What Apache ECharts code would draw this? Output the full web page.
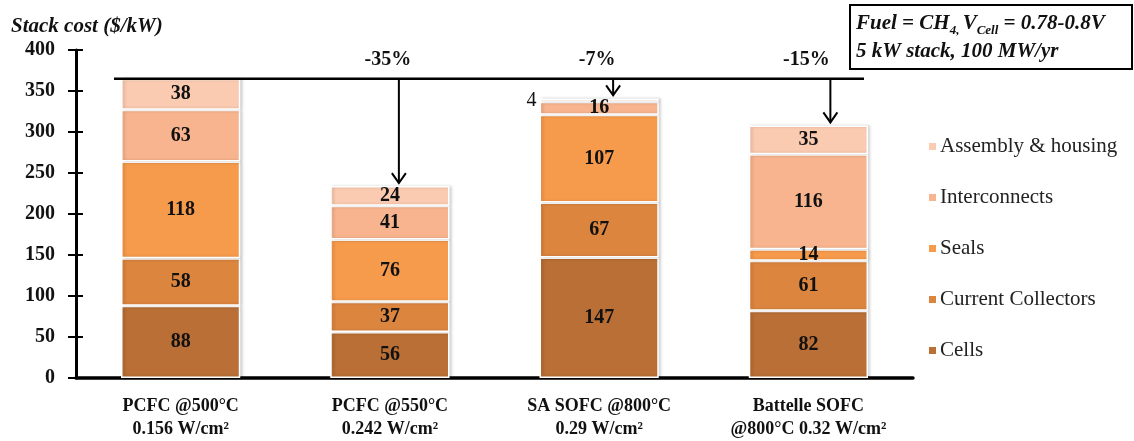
<!DOCTYPE html>
<html>
<head>
<meta charset="utf-8">
<script src="https://cdn.jsdelivr.net/npm/echarts@6/dist/echarts.min.js"></script>
<style>
html,body{margin:0;padding:0;background:#fff;}
#chart{width:1134px;height:441px;}
</style>
</head>
<body>
<div id="chart"></div>
<script>
// ---- data ----
const categories = ['PCFC @500°C\n0.156 W/cm²', 'PCFC @550°C\n0.242 W/cm²', 'SA SOFC @800°C\n0.29 W/cm²', 'Battelle SOFC\n@800°C 0.32 W/cm²'];
const cells = [88, 56, 147, 82];
const currentCollectors = [58, 37, 67, 61];
const seals = [118, 76, 107, 14];
const interconnects = [63, 41, 16, 116];
const assembly = [38, 24, 4, 35];
const changeLabels = ['', '-35%', '-7%', '-15%'];
const yTicks = { min: 0, max: 400, interval: 50 };

// ---- styles ----
const FONT = 'Liberation Serif';
const colors = {
  cells: '#b96f35',
  cc: '#dc853f',
  seals: '#f69b4c',
  inter: '#f8b48e',
  assembly: '#fbcbb1'
};
const arrowDx = [0, 9, 14, 22];

const totals = cells.map((v, i) => v + currentCollectors[i] + seals[i] + interconnects[i] + assembly[i]);
const refLevel = totals[0];

const chart = echarts.init(document.getElementById('chart'));

function barSeries(name, data, color) {
  return {
    name: name,
    type: 'bar',
    stack: 'cost',
    barWidth: '57%',
    data: data,
    itemStyle: {
      color: color,
      borderColor: '#ffffff',
      borderWidth: 1.5,
      shadowColor: 'rgba(0,0,0,0.18)',
      shadowBlur: 3,
      shadowOffsetX: 2
    },
    label: {
      show: true,
      position: 'inside',
      color: '#111',
      fontFamily: FONT,
      fontWeight: 'bold',
      fontSize: 20
    }
  };
}

const assemblyData = assembly.map((v, i) => i === 2 ? {
  value: v,
  label: { position: 'left', distance: 3, fontWeight: 'normal', offset: [0, 1] }
} : v);

const annotationData = categories.map((c, i) => [i, totals[i], changeLabels[i]]);

const option = {
  animation: false,
  backgroundColor: '#ffffff',
  title: {
    text: 'Stack cost ($/kW)',
    left: 6,
    top: 11,
    textStyle: { fontFamily: FONT, fontSize: 21, fontWeight: 'bold', fontStyle: 'italic', color: '#111' }
  },
  grid: { left: 76, right: 221, top: 50, bottom: 63 },
  legend: {
    orient: 'vertical',
    left: 922,
    top: 131,
    itemWidth: 9,
    itemHeight: 9,
    itemGap: 30,
    icon: 'rect',
    data: ['Assembly & housing', 'Interconnects', 'Seals', 'Current Collectors', 'Cells'],
    textStyle: { fontFamily: FONT, fontSize: 21, color: '#222', padding: [0, 0, 0, -2] }
  },
  xAxis: {
    type: 'category',
    data: categories,
    axisLine: { lineStyle: { color: '#000', width: 3.5 } },
    axisTick: { show: false },
    axisLabel: {
      fontFamily: FONT, fontSize: 18, fontWeight: 'bold', color: '#111',
      lineHeight: 23, margin: 17, interval: 0
    }
  },
  yAxis: [{
    type: 'value',
    min: yTicks.min, max: yTicks.max, interval: yTicks.interval,
    axisLine: { show: true, lineStyle: { color: '#000', width: 3 } },
    axisTick: { show: true, length: 8, lineStyle: { color: '#000', width: 2 } },
    splitLine: { show: false },
    axisLabel: { fontFamily: FONT, fontSize: 20, fontWeight: 'bold', color: '#111', margin: 21 }
  }, {
    type: 'value',
    position: 'left',
    min: yTicks.min, max: yTicks.max, interval: yTicks.interval,
    axisLine: { show: false },
    axisTick: { show: true, inside: true, length: 7, lineStyle: { color: '#000', width: 2 } },
    splitLine: { show: false },
    axisLabel: { show: false }
  }],
  graphic: [{
    type: 'group',
    left: 849,
    top: 4,
    children: [{
      type: 'rect',
      shape: { x: 0, y: 0, width: 282, height: 64 },
      style: { fill: '#fff', stroke: '#000', lineWidth: 2 }
    }, {
      type: 'text',
      left: 6,
      top: 8,
      style: {
        text: '{t|Fuel = CH}{s|4, }{t|V}{s|Cell}{t| = 0.78-0.8V}\n{t|5 kW stack, 100 MW/yr}',
        rich: {
          t: { fontFamily: FONT, fontSize: 21, fontWeight: 'bold', fontStyle: 'italic', fill: '#111', lineHeight: 28 },
          s: { fontFamily: FONT, fontSize: 13, fontWeight: 'bold', fontStyle: 'italic', fill: '#111', verticalAlign: 'bottom', padding: [10, 0, 0, 0], lineHeight: 28 }
        }
      }
    }]
  }],
  series: [
    barSeries('Cells', cells, colors.cells),
    barSeries('Current Collectors', currentCollectors, colors.cc),
    barSeries('Seals', seals, colors.seals),
    barSeries('Interconnects', interconnects, colors.inter),
    barSeries('Assembly & housing', assemblyData, colors.assembly),
    {
      type: 'custom',
      silent: true,
      z: 10,
      data: annotationData,
      renderItem: function (params, api) {
        const idx = api.value(0);
        const total = api.value(1);
        const band = api.size([1, 0])[0];
        const barW = band * 0.57;
        const center = api.coord([idx, refLevel]);
        const yRef = center[1];
        const children = [];
        if (idx === 0) {
          const last = api.coord([categories.length - 1, refLevel]);
          children.push({
            type: 'line',
            shape: { x1: center[0] - barW / 2 - 7, y1: yRef, x2: last[0] + barW / 2 - 4, y2: yRef },
            style: { stroke: '#000', lineWidth: 2.5 }
          });
        } else {
          const x = center[0] + arrowDx[idx];
          const yTop = api.coord([idx, total])[1] - 3;
          children.push({
            type: 'line',
            shape: { x1: x, y1: yRef, x2: x, y2: yTop },
            style: { stroke: '#000', lineWidth: 2 }
          });
          children.push({
            type: 'polyline',
            shape: { points: [[x - 7, yTop - 10], [x, yTop], [x + 7, yTop - 10]] },
            style: { stroke: '#000', lineWidth: 2, fill: null }
          });
          children.push({
            type: 'text',
            style: {
              text: api.value(2),
              x: center[0] - 2,
              y: yRef - 19,
              align: 'center',
              verticalAlign: 'middle',
              fontFamily: FONT, fontSize: 20, fontWeight: 'bold', fill: '#111'
            }
          });
        }
        return { type: 'group', children: children };
      }
    }
  ]
};

chart.setOption(option);
</script>
</body>
</html>
